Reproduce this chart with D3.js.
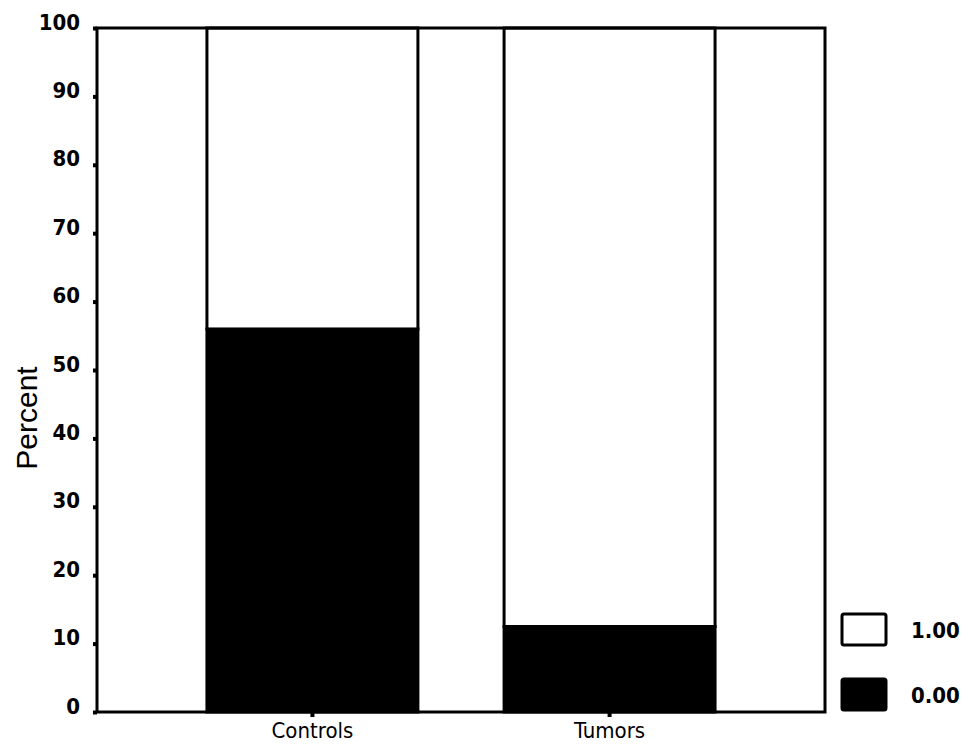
<!DOCTYPE html>
<html><head><meta charset="utf-8">
<script src="https://cdn.jsdelivr.net/npm/d3@7"></script>
<style>
html,body{margin:0;padding:0;background:#fff;}
svg{display:block;}
text{font-family:"DejaVu Sans Condensed","Liberation Sans Narrow","DejaVu Sans",sans-serif;fill:#000;}
</style></head>
<body>
<script>
const categories = ["Controls", "Tumors"];
const seriesKeys = ["0.00", "1.00"];
const values000 = [56, 12.5];
const values100 = [44, 87.5];
const yTicks = [0,10,20,30,40,50,60,70,80,90,100];
const legendKeys = ["1.00", "0.00"];

const W = 969, H = 755;
const m = {left: 97, right: 825, top: 28, bottom: 712};
const svg = d3.select("body").append("svg").attr("width", W).attr("height", H);

const x = d3.scaleBand().domain(categories).range([m.left, m.right]).paddingInner(0.29).paddingOuter(0.37);
const y = d3.scaleLinear().domain([0, 100]).range([m.bottom, m.top]);
const color = d3.scaleOrdinal().domain(seriesKeys).range(["#000", "#fff"]);

const rows = categories.map((c, i) => ({cat: c, "0.00": values000[i], "1.00": values100[i]}));
const stacked = d3.stack().keys(seriesKeys)(rows);

svg.append("g").selectAll("g").data(stacked).join("g")
  .attr("fill", d => color(d.key))
  .selectAll("rect").data(d => d).join("rect")
  .attr("x", d => x(d.data.cat))
  .attr("width", x.bandwidth())
  .attr("y", d => y(d[1]))
  .attr("height", d => y(d[0]) - y(d[1]))
  .attr("stroke", "#000").attr("stroke-width", 3);

// frame
svg.append("rect").attr("x", m.left).attr("y", m.top)
  .attr("width", m.right - m.left).attr("height", m.bottom - m.top)
  .attr("fill", "none").attr("stroke", "#000").attr("stroke-width", 3);

const cond = "\"DejaVu Sans Condensed\",\"Liberation Sans Narrow\",sans-serif";

// y axis
const ya = d3.axisLeft(y).tickValues(yTicks).tickSize(4).tickPadding(13).tickFormat(d3.format("d"));
const yg = svg.append("g").attr("transform", `translate(${m.left},0)`).call(ya);
yg.select(".domain").remove();
yg.selectAll("line").attr("stroke", "#000").attr("stroke-width", 4);
yg.selectAll("text").attr("font-size", 22).attr("font-weight", "bold").attr("dy", "0.05em")
  .style("font-family", cond);

// x axis
const xa = d3.axisBottom(x).tickSize(5).tickPadding(5);
const xg = svg.append("g").attr("transform", `translate(0,${m.bottom})`).call(xa);
xg.select(".domain").remove();
xg.selectAll("line").attr("stroke", "#000").attr("stroke-width", 4);
xg.selectAll("text").attr("font-size", 22).style("font-family", cond);

// y title
svg.append("text").attr("transform", `translate(37,${(m.top + m.bottom) / 2 + 48}) rotate(-90)`)
  .attr("text-anchor", "middle").attr("font-size", 30).text("Percent")
  .style("font-family", "\"Liberation Sans\",Arial,sans-serif");

// legend
const lg = svg.append("g");
legendKeys.forEach((k, i) => {
  const yy = 614 + i * 65;
  lg.append("rect").attr("x", 842).attr("y", yy).attr("width", 44).attr("height", 31)
    .attr("fill", color(k)).attr("stroke", "#000").attr("stroke-width", 3).attr("rx", 2);
  lg.append("text").attr("x", 911).attr("y", yy + 24).attr("font-size", 22).attr("font-weight", "bold")
    .style("font-family", cond).text(k);
});
</script>
</body></html>
